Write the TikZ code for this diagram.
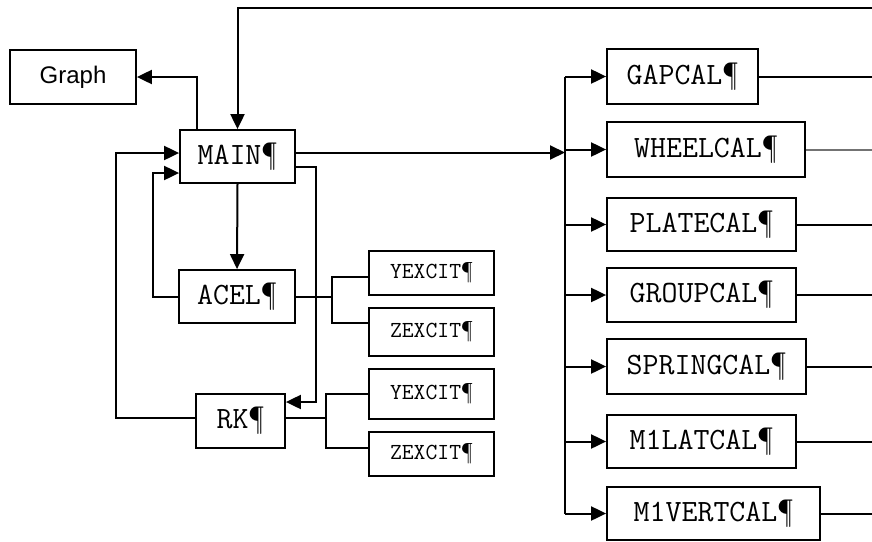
\documentclass[tikz,border=0pt]{standalone}
\usepackage{fontspec}
\setmainfont{Liberation Serif}
\newfontfamily\boxfont{Latin Modern Mono}
\newfontfamily\labelfont{Liberation Sans}
\usetikzlibrary{arrows.meta}
\begin{document}
\begin{tikzpicture}[x=1pt,y=-1pt,
  line/.style={line width=2pt,draw=black},
  arr/.style={line, -{Triangle[length=15pt,width=14pt]}},
  box/.style={draw=black,line width=1.8pt,inner sep=0pt,font=\boxfont\fontsize{31}{33}\selectfont},
  smallbox/.style={box,font=\boxfont\fontsize{23}{25}\selectfont},
  bx/.style n args={2}{minimum width=#1pt,minimum height=#2pt}]
\useasboundingbox (0,0) rectangle (872,541);

% main program and its helpers
\node[box,bx={126}{54},font=\labelfont\fontsize{24}{26}\selectfont] (graph) at (73,77) {Graph};
\node[box,bx={115}{53}] (main) at (237.5,156.5) {MAIN¶};
\node[box,bx={116}{53}] (acel) at (237,296.5) {ACEL¶};
\node[box,bx={89}{54}]  (rk)   at (240.5,421) {RK¶};
\node[smallbox,bx={125}{44}] (y1) at (431.5,273) {YEXCIT¶};
\node[smallbox,bx={125}{48}] (z1) at (431.5,332) {ZEXCIT¶};
\node[smallbox,bx={125}{50}] (y2) at (431.5,394) {YEXCIT¶};
\node[smallbox,bx={125}{44}] (z2) at (431.5,454) {ZEXCIT¶};

% calculation routines
\node[box,bx={151}{55}] (gap)    at (682.5,76.5)  {GAPCAL¶};
\node[box,bx={198}{55}] (wheel)  at (706,149.5)   {WHEELCAL¶};
\node[box,bx={189}{53}] (plate)  at (701.5,224.5) {PLATECAL¶};
\node[box,bx={189}{54}] (group)  at (701.5,295)   {GROUPCAL¶};
\node[box,bx={199}{55}] (spring) at (706.5,366.5) {SPRINGCAL¶};
\node[box,bx={189}{53}] (mlat)   at (701.5,441.5) {M1LATCAL¶};
\node[box,bx={213}{53}] (mvert)  at (713.5,513.5) {M1VERTCAL¶};

\coordinate (edge) at (872,0);
\coordinate (bus) at (565,0);
\coordinate (topR) at (872,8);

% feedback from the right into MAIN
\draw[arr] (topR) -| (main.north);
% MAIN to Graph
\draw[arr] ([xshift=-40.5pt]main.north) |- (graph.east);
% MAIN down to ACEL
\draw[arr] (main.south) -- (acel.north);
% returns into MAIN
\draw[arr] ([yshift=3pt]rk.west) -- ++(-79,0) |- ([yshift=3.5pt]main.west);
\draw[arr] (acel.west) -- ++(-25,0) |- ([yshift=-16.5pt]main.west);
% MAIN to RK
\draw[arr] ([yshift=-10.5pt]main.east) -- ++(20,0) |- ([yshift=19pt]rk.east);

% ACEL and RK excitation calls
\coordinate (aj) at (332,296.5);
\draw[line] (acel.east) -- (aj);
\draw[line] ([yshift=-4pt]y1.west) -| (aj);
\draw[line] ([yshift=9pt]z1.west) -| (aj);
\coordinate (rj) at (326,418);
\draw[line] ([yshift=3pt]rk.east) -- (rj);
\draw[line] (y2.west) -| (rj);
\draw[line] ([yshift=6pt]z2.west) -| (rj);

% MAIN to the calculation bus
\draw[arr] ([yshift=4pt]main.east) -- ([yshift=4pt]main.east -| bus);
\draw[line] (bus |- gap.west) -- (bus |- mvert.west);
\foreach \n in {gap,wheel,plate,group,spring,mlat,mvert}
  \draw[arr] (bus |- \n.west) -- (\n.west);

% outputs to the right
\foreach \n in {gap,plate,group,spring,mlat,mvert}
  \draw[line] (\n.east) -- (\n.east -| edge);
\draw[line,draw=black!55] (wheel.east) -- (wheel.east -| edge);
\end{tikzpicture}
\end{document}
